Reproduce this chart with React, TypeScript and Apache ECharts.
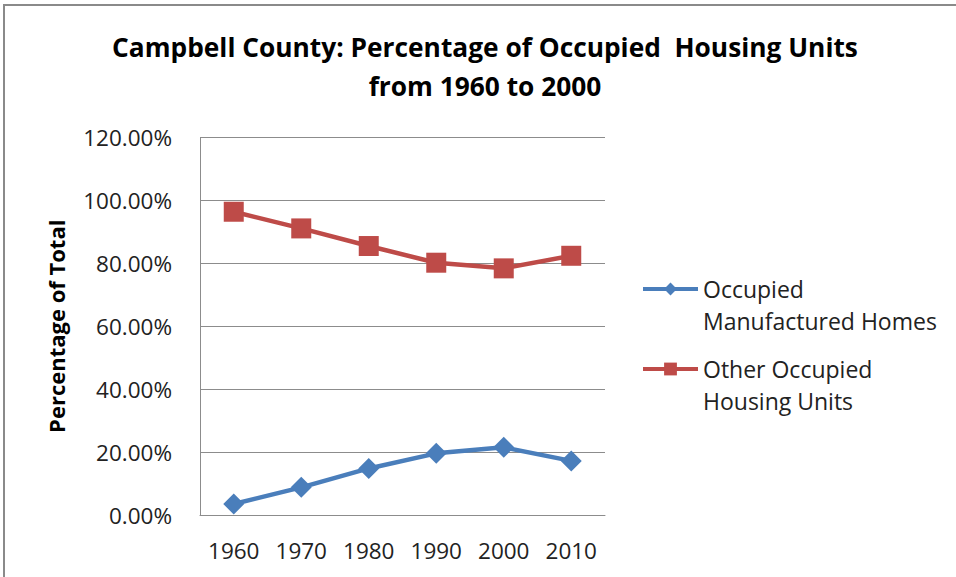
import React, { useEffect, useRef } from "react";
import * as echarts from "echarts";

const years = ["1960", "1970", "1980", "1990", "2000", "2010"];
const manufactured = [3.5, 8.8, 14.8, 19.6, 21.5, 17.2];
const otherUnits = [96.4, 91.1, 85.5, 80.2, 78.4, 82.4];
const seriesNames = ["Occupied Manufactured Homes", "Other Occupied Housing Units"];
const legendLabels: Record<string, string> = {
  "Occupied Manufactured Homes": "\nOccupied\nManufactured Homes",
  "Other Occupied Housing Units": "\nOther Occupied\nHousing Units",
};

const FONT = "'Open Sans', 'Liberation Sans', sans-serif";

export default function App() {
  const ref = useRef<HTMLDivElement>(null);
  useEffect(() => {
    if (!ref.current) return;
    const chart = echarts.init(ref.current, undefined, { renderer: "svg" });
    const legendCommon = {
      orient: "vertical" as const,
      left: 641,
      padding: 0,
      itemWidth: 55,
      itemHeight: 16,
      itemGap: 10,
      lineStyle: { width: 4 },
      formatter: (n: string) => legendLabels[n] || n,
      textStyle: {
        fontFamily: FONT,
        fontSize: 23,
        color: "#222",
        lineHeight: 32,
      },
    };
    chart.setOption({
      animation: false,
      backgroundColor: "#fff",
      title: {
        text: "Campbell County: Percentage of Occupied  Housing Units\nfrom 1960 to 2000",
        left: 485,
        textAlign: "center",
        top: 27,
        padding: 0,
        textStyle: {
          fontFamily: FONT,
          fontWeight: "bold",
          fontSize: 26.3,
          lineHeight: 39,
          color: "#000",
        },
      },
      legend: [
        { ...legendCommon, top: 241, data: [seriesNames[0]] },
        { ...legendCommon, top: 321, data: [seriesNames[1]] },
      ],
      grid: { left: 200, right: 351, top: 137.5, bottom: 62, containLabel: false },
      xAxis: {
        type: "category",
        data: years,
        boundaryGap: true,
        axisLine: { lineStyle: { color: "#8c8c8c", width: 1 } },
        axisTick: { show: false },
        axisLabel: { fontFamily: FONT, fontSize: 22.5, color: "#222", margin: 24 },
      },
      yAxis: {
        type: "value",
        min: 0,
        max: 120,
        interval: 20,
        name: "Percentage of Total",
        nameLocation: "middle",
        nameGap: 133,
        nameRotate: 90,
        nameTextStyle: { fontFamily: FONT, fontWeight: "bold", fontSize: 22, color: "#000" },
        axisLine: { show: true, lineStyle: { color: "#8c8c8c", width: 1 } },
        axisTick: { show: false },
        splitLine: { lineStyle: { color: "#8c8c8c", width: 1 } },
        axisLabel: {
          fontFamily: FONT,
          fontSize: 22.5,
          color: "#222",
          margin: 28,
          formatter: (v: number) => v.toFixed(2) + "%",
        },
      },
      series: [
        {
          name: seriesNames[0],
          type: "line",
          data: manufactured,
          symbol: "diamond",
          symbolSize: 21,
          lineStyle: { color: "#4A7EBB", width: 4.5 },
          itemStyle: { color: "#4A7EBB" },
        },
        {
          name: seriesNames[1],
          type: "line",
          data: otherUnits,
          symbol: "rect",
          symbolSize: 20,
          lineStyle: { color: "#BE4B48", width: 4.5 },
          itemStyle: { color: "#BE4B48" },
        },
      ],
      graphic: [
        {
          type: "rect",
          shape: { x: 4, y: 5, width: 1000, height: 1000 },
          style: { fill: "none", stroke: "#8a8a8a", lineWidth: 2 },
          silent: true,
        },
      ],
    });
    return () => chart.dispose();
  }, []);
  return (
    <div
      ref={ref}
      style={{ position: "fixed", left: 0, top: 0, width: 956, height: 577 }}
    />
  );
}
